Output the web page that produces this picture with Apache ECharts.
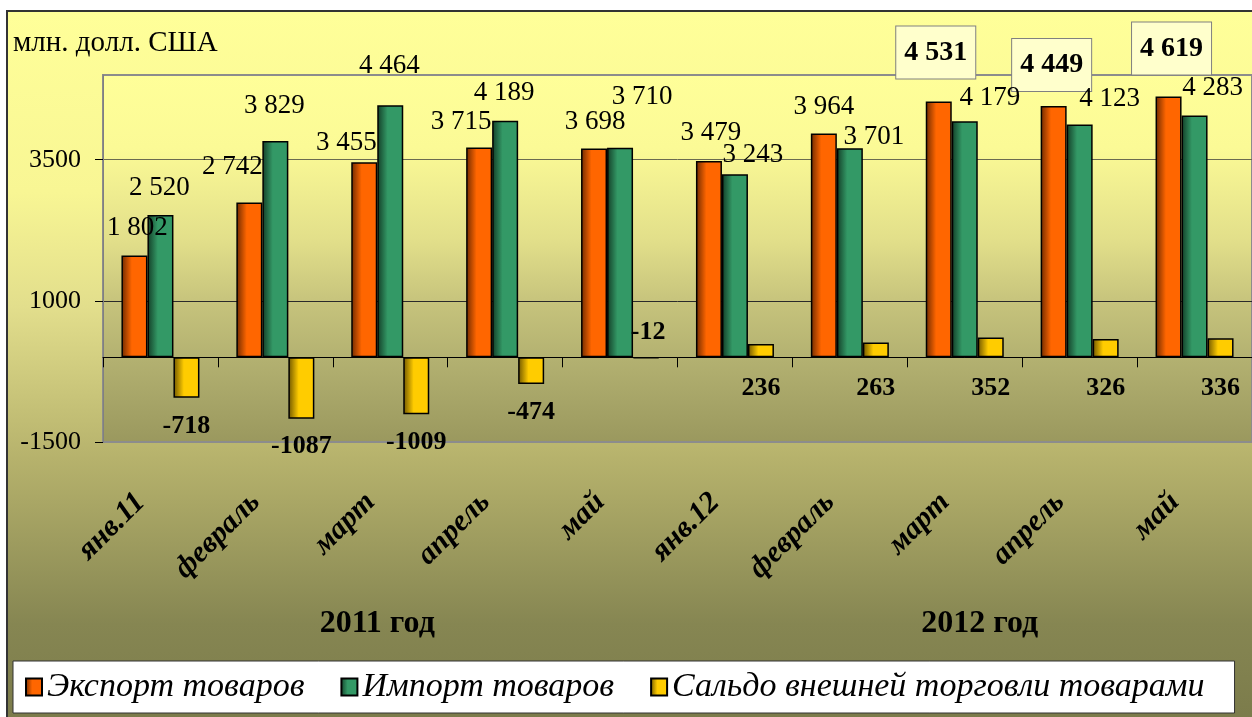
<!DOCTYPE html>
<html lang="ru">
<head>
    <meta charset="UTF-8">
    <title>Экспорт и импорт товаров</title>
    <script src="https://cdn.jsdelivr.net/npm/echarts@6/dist/echarts.min.js"></script>
    <style>
        body{
            margin: 0;
            background: #fff;
        }
        .frame{
            position: absolute;
            left: 6px;
            top: 10px;
            width: 1260px;
            height: 720px;
            border: 2px solid #333;
            background: linear-gradient(to bottom, #FFFF99 0%, #F8F694 25%, #E2DE8C 41%, #B6B26C 62%, #868652 85%, #7A7A4A 100%);
        }
        #chart{
            position: absolute;
            left: 0;
            top: 0;
            width: 1252px;
            height: 717px;
        }
    </style>
</head>
<body>
<div class="frame"></div>
<div id="chart"></div>
<script>
    const months = ['янв.11', 'февраль', 'март', 'апрель', 'май', 'янв.12', 'февраль', 'март', 'апрель', 'май'];
    const years = ['2011 год', '2012 год'];
    const exportVals = [1802, 2742, 3455, 3715, 3698, 3479, 3964, 4531, 4449, 4619];
    const importVals = [2520, 3829, 4464, 4189, 3710, 3243, 3701, 4179, 4123, 4283];
    const balanceVals = [-718, -1087, -1009, -474, -12, 236, 263, 352, 326, 336];
    const yTicks = [-1500, 1000, 3500];

    /* сдвиги подписей, как они стоят на исходной картинке */
    const exportShift = [[3, -2], [-17, -10], [-18, 6], [-18, 0], [1, -1], [2, -2], [0, -1], [-3, -11], [-2, -3], [3, -10]];
    const importShift = [[-1, -2], [-1, -10], [-1, -14], [-1, -2], [22, -25], [18, 6], [24, 14], [25, 2], [30, 0], [18, -2]];
    const boxed = [7, 8, 9];

    const serif = 'Liberation Serif';
    const fmt = v => String(v).replace(/\B(?=(\d{3})+(?!\d))/g, ' ');

    function barFill(dark, base){
        return new echarts.graphic.LinearGradient(0, 0, 1, 0, [
            {offset: 0, color: dark},
            {offset: 0.4, color: base},
            {offset: 1, color: base}
        ]);
    }

    const exportData = exportVals.map((v, i) => {
        const item = {value: v, label: {offset: exportShift[i]}};
        if (boxed.indexOf(i) > -1) {
            item.label.fontWeight = 'bold';
            item.label.fontSize = 28;
            item.label.backgroundColor = '#FFFFCC';
            item.label.borderColor = '#808080';
            item.label.borderWidth = 1;
            item.label.padding = [12, 8];
        }
        return item;
    });
    const importData = importVals.map((v, i) => ({value: v, label: {offset: importShift[i]}}));
    const balanceData = balanceVals.map(v => {
        if (Math.abs(v) < 50) {
            return {value: v, label: {position: 'top', distance: 12, offset: [2, 0]}};
        }
        return {value: v, label: {position: 'bottom', distance: v > 0 ? 18 : 15}};
    });

    const chart = echarts.init(document.getElementById('chart'));
    const option = {
        backgroundColor: 'transparent',
        animation: false,
        title: {
            text: 'млн. долл. США',
            left: 8,
            top: 24,
            textStyle: {fontFamily: serif, fontSize: 29, fontWeight: 'normal', color: '#000'}
        },
        legend: {
            left: 13,
            bottom: 4,
            padding: [9, 30, 9, 12],
            itemGap: 36,
            itemWidth: 16,
            itemHeight: 17,
            icon: 'rect',
            backgroundColor: '#fff',
            borderColor: '#333',
            borderWidth: 1,
            textStyle: {fontFamily: serif, fontSize: 34, fontStyle: 'italic', color: '#000'}
        },
        grid: {
            left: 103,
            top: 75,
            right: 0,
            bottom: 275,
            show: true,
            borderColor: '#8c8c8c',
            borderWidth: 2,
            backgroundColor: new echarts.graphic.LinearGradient(0, 0, 0, 1, [
                {offset: 0, color: '#FFFF99'},
                {offset: 0.2, color: '#FBFA96'},
                {offset: 0.45, color: '#E2DF8A'},
                {offset: 0.62, color: '#C6C37C'},
                {offset: 0.78, color: '#B2B070'},
                {offset: 1, color: '#9A985E'}
            ])
        },
        xAxis: [{
            type: 'category',
            data: months,
            axisLine: {onZero: true, lineStyle: {color: '#000', width: 1}},
            axisTick: {show: true, length: 10, lineStyle: {color: '#000'}},
            axisLabel: {
                interval: 0,
                rotate: 45,
                margin: 36,
                padding: [0, 28, 0, 0],
                fontFamily: serif,
                fontSize: 30,
                fontWeight: 'bold',
                fontStyle: 'italic',
                color: '#000'
            },
            splitLine: {show: false}
        }, {
            type: 'category',
            data: years,
            position: 'bottom',
            axisLine: {show: false, onZero: false},
            axisTick: {show: false},
            axisLabel: {
                interval: 0,
                margin: 166,
                formatter: (v, i) => i === 0 ? '{a|' + v + '}' : '{b|' + v + '}',
                rich: {
                    a: {fontFamily: serif, fontSize: 32, fontWeight: 'bold', color: '#000', padding: [0, 26, 0, 0]},
                    b: {fontFamily: serif, fontSize: 32, fontWeight: 'bold', color: '#000', padding: [0, 0, 0, 30]}
                }
            }
        }],
        yAxis: {
            type: 'value',
            min: yTicks[0],
            max: 5000,
            interval: yTicks[1] - yTicks[0],
            axisLine: {show: true, lineStyle: {color: '#808080', width: 1}},
            axisTick: {show: true, length: 8, lineStyle: {color: '#000'}},
            axisLabel: {
                showMaxLabel: false,
                margin: 22,
                formatter: v => String(v),
                fontFamily: serif,
                fontSize: 26,
                color: '#000'
            },
            splitLine: {
                show: true,
                lineStyle: {color: ['#8c8c8c', '#2a2a2a', '#6a6a50', '#8c8c8c'], width: 1}
            }
        },
        series: [{
            name: 'Экспорт товаров',
            type: 'bar',
            data: exportData,
            barWidth: 26,
            barGap: '0%',
            itemStyle: {color: barFill('#6e2a00', '#FF6600'), borderColor: '#000', borderWidth: 1.5},
            label: {
                show: true,
                position: 'top',
                distance: 12,
                formatter: p => fmt(p.value),
                fontFamily: serif,
                fontSize: 27,
                color: '#000'
            }
        }, {
            name: 'Импорт товаров',
            type: 'bar',
            data: importData,
            barWidth: 26,
            barGap: '0%',
            itemStyle: {color: barFill('#133d27', '#339966'), borderColor: '#000', borderWidth: 1.5},
            label: {
                show: true,
                position: 'top',
                distance: 12,
                formatter: p => fmt(p.value),
                fontFamily: serif,
                fontSize: 27,
                color: '#000'
            }
        }, {
            name: 'Сальдо внешней торговли товарами',
            type: 'bar',
            data: balanceData,
            barWidth: 26,
            barGap: '0%',
            itemStyle: {color: barFill('#6e5500', '#FFCC00'), borderColor: '#000', borderWidth: 1.5},
            label: {
                show: true,
                fontFamily: serif,
                fontSize: 26,
                fontWeight: 'bold',
                color: '#000'
            }
        }]
    };
    chart.setOption(option);
</script>
</body>
</html>
